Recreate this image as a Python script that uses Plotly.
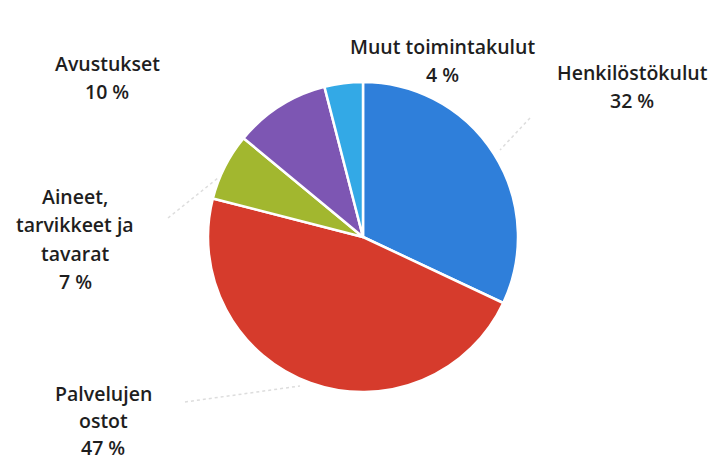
import plotly.graph_objects as go

categories = ["Henkilöstökulut", "Palvelujen ostot", "Aineet, tarvikkeet ja tavarat",
              "Avustukset", "Muut toimintakulut"]
shares = [32, 47, 7, 10, 4]
colors = ["#2F7FDA", "#D63B2C", "#A2B72F", "#7D56B3", "#33A9E6"]

# label lines, centre of the first line (px from top-left) and line spacing
label_lines = [
    (["Henkilöstökulut", "32 %"], 632, 72, 28.5),
    (["Palvelujen", "ostot", "47 %"], 103, 393, 27),
    (["Aineet,", "tarvikkeet ja", "tavarat", "7 %"], 75, 196, 28.5),
    (["Avustukset", "10 %"], 107, 63, 28.5),
    (["Muut toimintakulut", "4 %"], 443, 46, 28.5),
]

W, H = 715, 461
cx, cy, r = 363, 237, 155

fig = go.Figure()
fig.add_trace(go.Pie(
    labels=categories,
    values=shares,
    sort=False,
    direction="clockwise",
    rotation=0,
    marker=dict(colors=colors, line=dict(color="white", width=2.5)),
    textinfo="none",
    hoverinfo="label+percent",
    showlegend=False,
    domain=dict(x=[(cx - r) / W, (cx + r) / W], y=[1 - (cy + r) / H, 1 - (cy - r) / H]),
))

for lines, x, y, gap in label_lines:
    for i, txt in enumerate(lines):
        fig.add_annotation(
            x=x / W, y=1 - (y + i * gap) / H,
            xref="paper", yref="paper",
            text=txt, showarrow=False,
            xanchor="center", yanchor="middle",
            font=dict(family="Open Sans", size=19.5, color="#1e1e1e", weight=600),
        )

# faint dotted leader lines
for x0, y0, x1, y1 in [(530, 118, 500, 150), (168, 218, 218, 178), (185, 402, 300, 386)]:
    fig.add_shape(type="line", xref="paper", yref="paper",
                  x0=x0 / W, y0=1 - y0 / H, x1=x1 / W, y1=1 - y1 / H,
                  line=dict(color="#dddddd", width=1.5, dash="dot"))

fig.update_layout(
    width=W, height=H,
    margin=dict(l=0, r=0, t=0, b=0),
    paper_bgcolor="white",
    plot_bgcolor="white",
)

fig.write_html("out.html", config={"displayModeBar": False},
               post_script="document.body.style.margin='0';")
